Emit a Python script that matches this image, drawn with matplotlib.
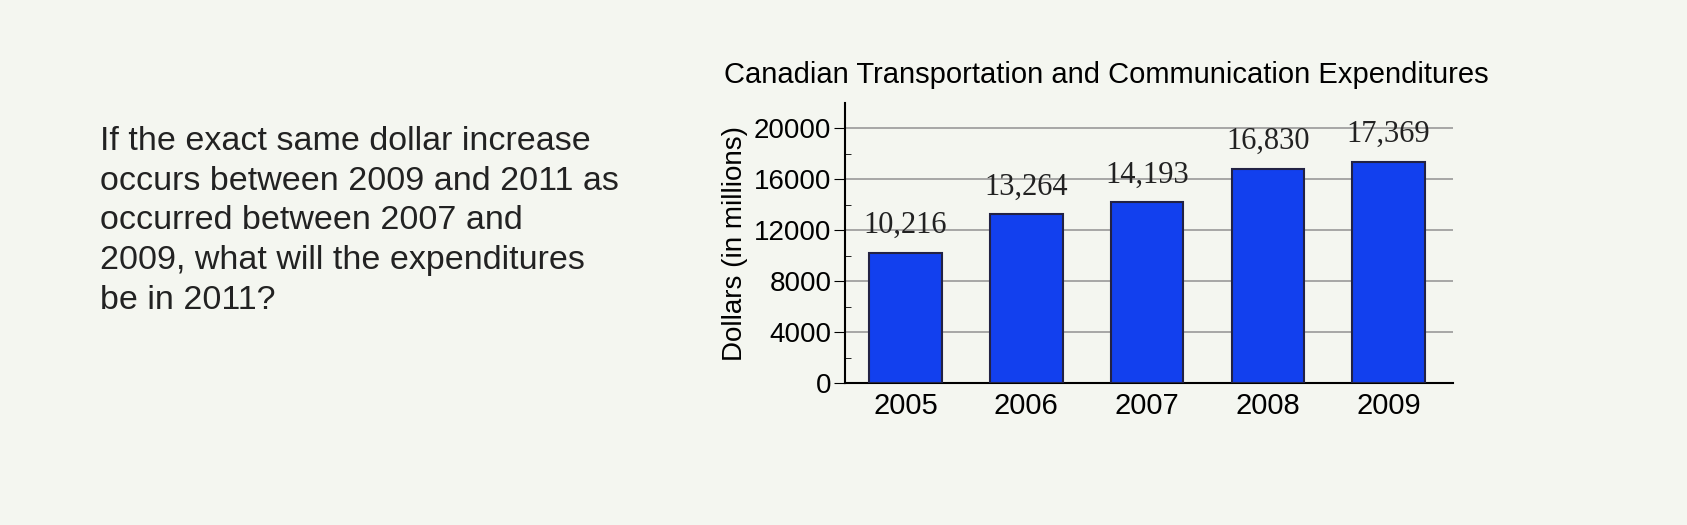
import matplotlib
matplotlib.use("Agg")
import matplotlib.pyplot as plt

years = ["2005", "2006", "2007", "2008", "2009"]
values = [10216, 13264, 14193, 16830, 17369]
labels = ["10,216", "13,264", "14,193", "16,830", "17,369"]
yticks = [0, 4000, 8000, 12000, 16000, 20000]

fig = plt.figure(figsize=(16.87, 5.25), dpi=100)
fig.patch.set_facecolor("#f4f6f0")
fig.text(0.059, 0.76, "If the exact same dollar increase\noccurs between 2009 and 2011 as\noccurred between 2007 and\n2009, what will the expenditures\nbe in 2011?",
         fontsize=24.5, va="top", ha="left", family="Liberation Sans", color="#222222", linespacing=1.36)
ax = fig.add_axes([0.501, 0.270, 0.360, 0.534])
ax.set_facecolor("none")
x = range(len(years))
ax.bar(x, values, width=0.6, color="#1240ee", edgecolor="#222244", linewidth=1.5, zorder=3)
for xi, v, l in zip(x, values, labels):
    ax.text(xi, v + 1000, l, ha="center", va="bottom", fontsize=22, family="Liberation Serif", color="#222222")
ax.set_xlim(-0.5, 4.53)
ax.set_ylim(0, 22000)
ax.set_xticks(list(x))
ax.set_xticklabels(years, fontsize=21, family="Liberation Sans")
ax.set_yticks(yticks)
ax.set_yticklabels([str(t) for t in yticks], fontsize=20, family="Liberation Sans")
ax.set_yticks(range(0, 22000, 2000), minor=True)
ax.tick_params(axis="x", length=0, pad=6)
ax.tick_params(axis="y", which="major", length=8, direction="out", pad=2)
ax.tick_params(axis="y", which="minor", length=4, direction="in")
ax.grid(axis="y", color="#999999", linewidth=1.2, zorder=0)
for s in ["top", "right"]:
    ax.spines[s].set_visible(False)
ax.spines["left"].set_linewidth(1.5)
ax.spines["bottom"].set_linewidth(1.5)
ax.set_ylabel("Dollars (in millions)", fontsize=20, family="Liberation Sans", labelpad=4)
ax.set_title("Canadian Transportation and Communication Expenditures", fontsize=21,
             family="Liberation Sans", x=0.43, pad=14)
fig.savefig("out.png", dpi=100, facecolor=fig.get_facecolor())
